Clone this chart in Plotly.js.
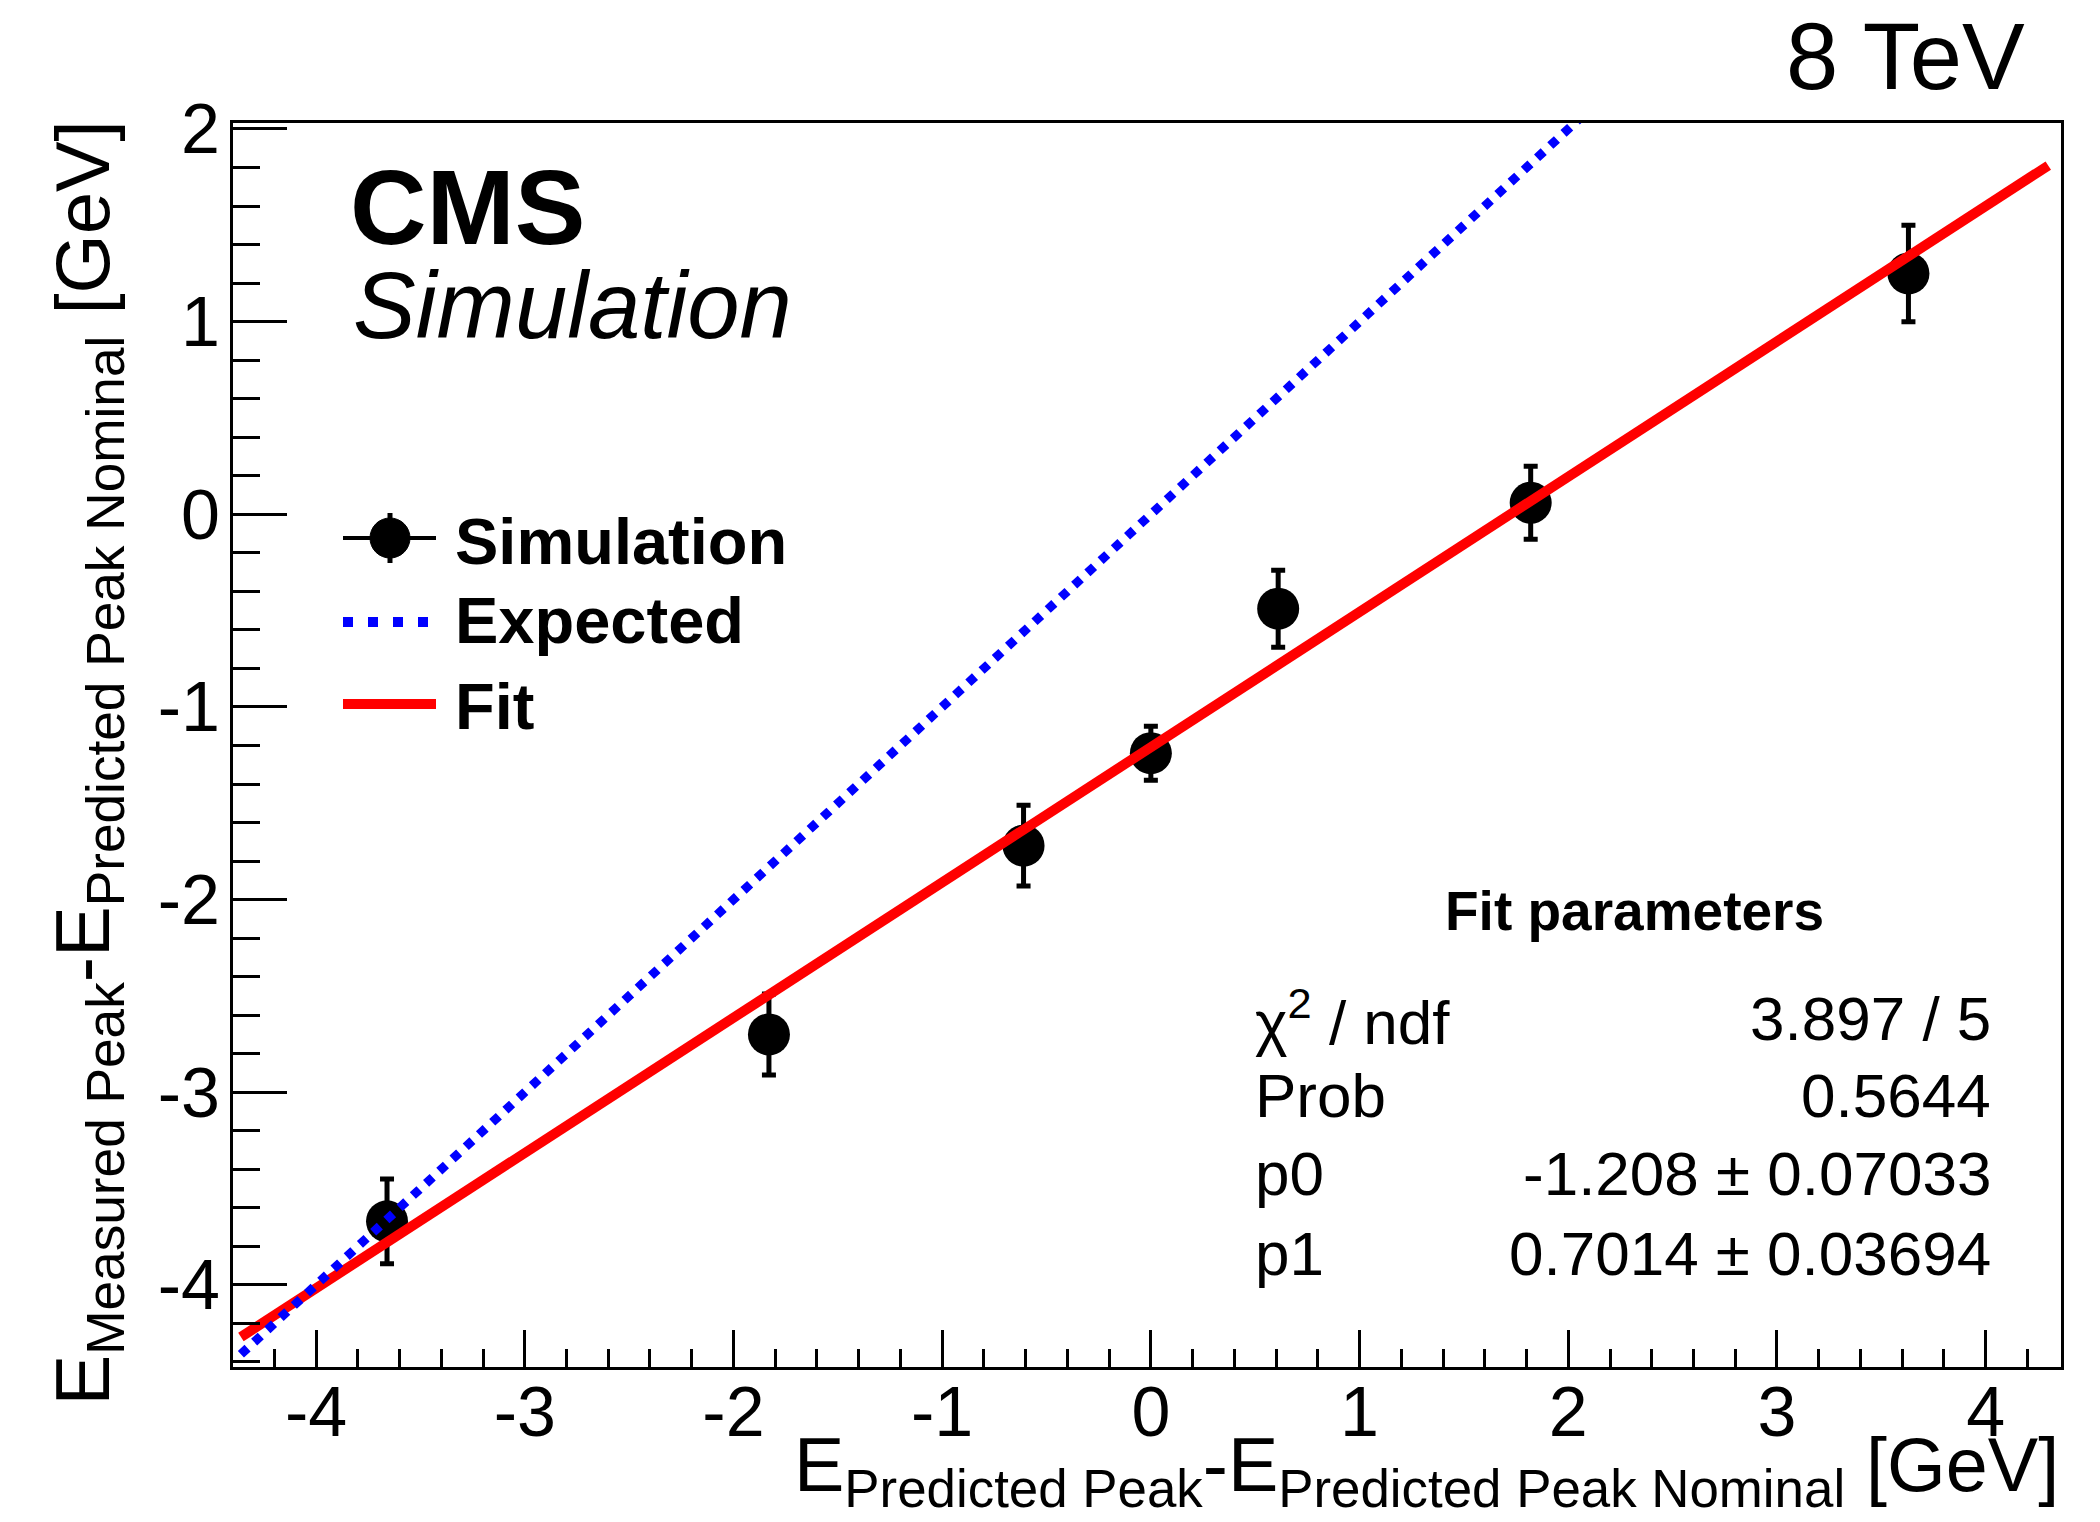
<!DOCTYPE html>
<html><head><meta charset="utf-8">
<script src="https://cdn.plot.ly/plotly-3.0.1.min.js"></script>
<style>html,body{margin:0;padding:0;background:#fff;} #chart{width:2100px;height:1522px;}</style>
</head><body><div id="chart"></div>
<script>
// ---- data ----
const simX   = [-3.66, -1.83, -0.61, 0.00, 0.61, 1.82, 3.63];
const simY   = [-3.67, -2.70, -1.72, -1.24, -0.49, 0.06, 1.25];
const simErr = [0.22, 0.21, 0.21, 0.14, 0.20, 0.19, 0.25];
const expX = [-4.36, 4.30];
const expY = [-4.36, 4.30];
const fitX = [-4.36, 4.30];
const fitY = [-4.27, 1.81];
const xTickVals = [-4, -3, -2, -1, 0, 1, 2, 3, 4];
const xTickText = ['-4', '-3', '-2', '-1', '0', '1', '2', '3', '4'];
const yTickVals = [-4, -3, -2, -1, 0, 1, 2];
const yTickText = ['-4', '-3', '-2', '-1', '0', '1', '2'];
const legendNames = ['Simulation', 'Expected', 'Fit'];
const statTitle = 'Fit parameters';
const statLabels = ['\u03c7<sup>2</sup> / ndf', 'Prob', 'p0', 'p1'];
const statValues = ['3.897 / 5', '0.5644', '-1.208 \u00b1 0.07033', '0.7014 \u00b1 0.03694'];
const xTitle = 'E<sub>Predicted Peak</sub>-E<sub>Predicted Peak Nominal</sub> [GeV]';
const yTitle = 'E<sub>Measured Peak</sub>-E<sub>Predicted Peak Nominal</sub> [GeV]';
const energyLabel = '8 TeV';
const cmsLabel = 'CMS';
const simLabel = 'Simulation';

// ---- layout geometry ----
const W = 2100, H = 1522;
const M = {l: 233, r: 39, t: 123, b: 155};
const PW = W - M.l - M.r, PH = H - M.t - M.b;
const px = v => (v - M.l) / PW;
const py = v => (H - M.b - v) / PH;
const FONT = 'Liberation Sans, Arial, Helvetica, sans-serif';

const traces = [
  {
    x: simX, y: simY, type: 'scatter', mode: 'markers', name: legendNames[0], showlegend: false,
    marker: {size: 42, color: 'black'},
    error_y: {type: 'data', array: simErr, visible: true, color: 'black', thickness: 5, width: 7},
    cliponaxis: false
  },
  {
    x: fitX, y: fitY, type: 'scatter', mode: 'lines', name: legendNames[2], showlegend: false,
    line: {color: '#ff0000', width: 10}
  },
  {
    x: expX, y: expY, type: 'scatter', mode: 'lines', name: legendNames[1], showlegend: false,
    line: {color: '#0000ff', width: 9, dash: 'dot'}
  }
];

const ann = [];
function txt(text, x, y, xa, ya, size, extra) {
  ann.push(Object.assign({
    text: text, xref: 'paper', yref: 'paper', x: px(x), y: py(y), xanchor: xa, yanchor: ya,
    showarrow: false, font: {family: FONT, size: size, color: 'black'}, borderpad: 0, borderwidth: 0
  }, extra || {}));
}
txt(energyLabel, 2025, 56, 'right', 'middle', 94);
txt(cmsLabel, 350, 207, 'left', 'middle', 106, {font: {family: FONT, size: 106, color: 'black', weight: 'bold'}});
txt(simLabel, 353, 305, 'left', 'middle', 94, {font: {family: FONT, size: 94, color: 'black', style: 'italic'}});
const legY = [541, 620, 706];
legendNames.forEach((n, i) => txt(n, 455, legY[i], 'left', 'middle', 65, {font: {family: FONT, size: 65, color: 'black', weight: 'bold'}}));
txt(statTitle, 1634, 911, 'center', 'middle', 55, {font: {family: FONT, size: 55, color: 'black', weight: 'bold'}});
const statY = [1018, 1095, 1173, 1253];
statLabels.forEach((s, i) => txt(s, 1255, statY[i], 'left', 'middle', 62));
statValues.forEach((s, i) => txt(s, 1991, statY[i], 'right', 'middle', 62));
txt(xTitle, 2059, 1423, 'right', 'top', 75.5);
txt(yTitle, 40, 121, 'left', 'top', 76, {textangle: -90});

const shapes = [
  {type: 'line', xref: 'paper', yref: 'paper', x0: px(343), x1: px(436), y0: py(538), y1: py(538), line: {color: 'black', width: 4}},
  {type: 'line', xref: 'paper', yref: 'paper', x0: px(390), x1: px(390), y0: py(513), y1: py(563), line: {color: 'black', width: 5}},
  {type: 'circle', xref: 'paper', yref: 'paper', x0: px(370), x1: px(410), y0: py(518), y1: py(558), fillcolor: 'black', line: {color: 'black', width: 1}},
  {type: 'line', xref: 'paper', yref: 'paper', x0: px(343), x1: px(432), y0: py(622), y1: py(622), line: {color: '#0000ff', width: 10, dash: '10px,15px'}},
  {type: 'line', xref: 'paper', yref: 'paper', x0: px(343), x1: px(436), y0: py(704), y1: py(704), line: {color: '#ff0000', width: 10}}
];

const axisCommon = {
  showgrid: false, zeroline: false, showline: true, linewidth: 3, linecolor: 'black', mirror: true,
  ticks: 'inside', tickwidth: 3, tickcolor: 'black', tickmode: 'array',
  tickfont: {family: FONT, size: 70, color: 'black'}
};

const layout = {
  width: W, height: H, margin: Object.assign({pad: 0}, M),
  paper_bgcolor: 'white', plot_bgcolor: 'white', showlegend: false,
  font: {family: FONT, color: 'black'},
  xaxis: Object.assign({}, axisCommon, {
    range: [-4.398, 4.361], tickvals: xTickVals, ticktext: xTickText, ticklen: 37, ticklabelstandoff: -18,
    minor: {ticks: 'inside', ticklen: 18, tickwidth: 3, tickcolor: 'black', tickmode: 'linear', tick0: 0, dtick: 0.2, showgrid: false}
  }),
  yaxis: Object.assign({}, axisCommon, {
    range: [-4.426, 2.031], tickvals: yTickVals, ticktext: yTickText, ticklen: 54, ticklabelstandoff: -4,
    minor: {ticks: 'inside', ticklen: 27, tickwidth: 3, tickcolor: 'black', tickmode: 'linear', tick0: 0, dtick: 0.2, showgrid: false}
  }),
  annotations: ann,
  shapes: shapes
};

Plotly.newPlot('chart', traces, layout, {staticPlot: true, displayModeBar: false});
</script></body></html>
